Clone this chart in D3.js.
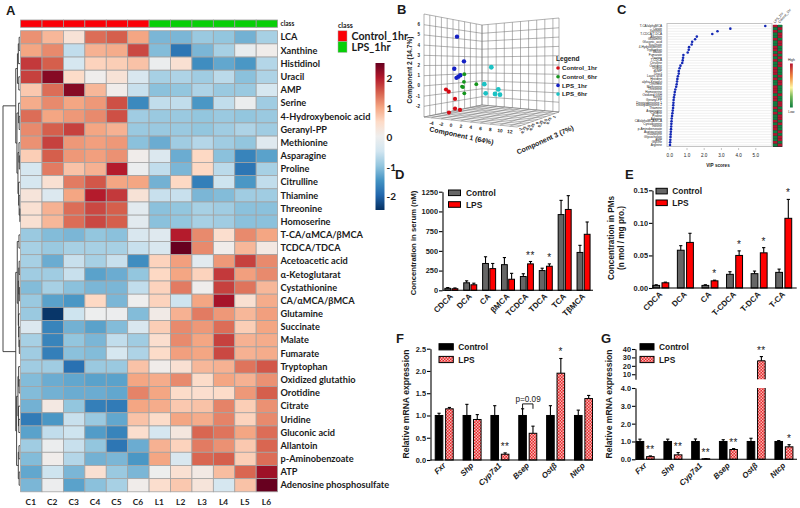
<!DOCTYPE html>
<html>
<head>
<meta charset="utf-8">
<script src="https://cdn.jsdelivr.net/npm/d3@7"></script>
<style>
  html, body { margin: 0; padding: 0; background: #fff; }
  svg { display: block; }
  text { font-family: "Liberation Sans", Arial, sans-serif; fill: #1a1a1a; }
  .calibri { font-family: Lato, sans-serif; font-weight: 700; }
</style>
</head>
<body>
<div id="canvas"></div>
<script>
"use strict"

/* ---------- data: panel A heatmap ---------- */
const sampleNames = ["C1","C2","C3","C4","C5","C6","L1","L2","L3","L4","L5","L6"];
const sampleClass = ["Control_1hr","Control_1hr","Control_1hr","Control_1hr","Control_1hr","Control_1hr",
                     "LPS_1hr","LPS_1hr","LPS_1hr","LPS_1hr","LPS_1hr","LPS_1hr"];
const metabolites = ["LCA","Xanthine","Histidinol","Uracil","AMP","Serine","4-Hydroxybenoic acid","Geranyl-PP",
  "Methionine","Asparagine","Proline","Citrulline","Thiamine","Threonine","Homoserine","T-CA/\u03b1MCA/\u03b2MCA",
  "TCDCA/TDCA","Acetoacetic acid","\u03b1-Ketoglutarat","Cystathionine","CA/\u03b1MCA/\u03b2MCA","Glutamine","Succinate",
  "Malate","Fumarate","Tryptophan","Oxidized glutathio","Orotidine","Citrate","Uridine","Gluconic acid","Allantoin",
  "p-Aminobenzoate","ATP","Adenosine phosphosulfate"];
const heatValues = [
  [1.1,.8,.3,1.35,1.45,.95,-1.1,-1.1,-.9,-.95,-1.15,-.8],
  [.95,1.15,-.6,.85,.9,1.6,-1.05,-1.75,-1.1,-.8,-.1,.05],
  [1.7,1.45,-.4,.55,.6,.7,-.05,.35,-1.5,-1.25,-1.4,-.7],
  [1.65,2.2,.45,.02,.3,-.35,-.8,-.75,-.85,-.65,-1,-.75],
  [.65,1.35,2.2,.8,.05,-.55,-1,-.95,-.75,-.9,-.9,-.4],
  [.9,1.15,.95,1.05,1.55,-1.55,-.6,-.6,-1.4,-.6,-.05,-.85],
  [1.35,.95,1.05,1.15,1.55,-.85,-.9,-.9,-.95,-.9,-.95,-.9],
  [1.15,1.45,1.65,.95,.85,-.9,-.9,-.9,-.95,-.85,-.75,-.85],
  [1.1,1.65,1.05,1,1.05,-1,-1.2,-.85,-.7,-.85,-.95,-.25],
  [.6,1.45,1.05,1,1.1,.05,-.3,-1.2,.5,-1,-1.6,-1.3],
  [-.4,1.25,.7,.85,1.9,-.05,-.6,-1.1,.5,-.65,-1.75,-.8],
  [-.4,.35,1.25,1.5,.95,.95,-1.15,.5,-1.65,-.5,-1.4,-.6],
  [.25,-.3,.95,1.9,1.7,.3,-.55,-.55,-1.1,-1.05,-.85,-.85],
  [.35,.85,1.35,1.6,1.45,-.2,-1,-.95,-.8,-.85,-1,-1],
  [.35,.8,1.35,1.6,1.45,-.2,-1,-.95,-.8,-.85,-1,-1],
  [-.9,-1.05,-1.1,-.95,-1,-.35,-.25,1.9,1.15,.4,1.15,.95],
  [-.8,-.9,-.8,-.8,-.8,-.55,-.35,2.4,1.15,.05,.8,.15],
  [-.8,-1.2,-.55,-.8,-.55,-1.5,.55,1,-.2,1.05,1.65,1.15],
  [-.85,-.85,-.55,-1.3,-1.2,-.95,.5,.95,.55,1.7,1,1.15],
  [-1.05,-.8,-1,-1.1,-1.1,-.6,.55,1.25,.02,1.65,1.3,.8],
  [-.9,-1.3,-1.4,.5,-1.1,0,.55,-.5,.95,2,.35,.9],
  [-.9,-2.35,-.5,-.02,-.03,-1.05,.1,.85,1.25,1.05,.8,1],
  [-.3,-1.6,-1.15,-1.3,-1.05,-.35,.6,1.15,1.05,1.35,.6,.95],
  [-.8,-1.6,-.95,-1.1,-.6,-.85,.4,1.15,.95,1.65,.85,.9],
  [-.85,-1.65,-1,-1.05,-.4,-.75,.45,1,.95,1.6,.85,.9],
  [-.85,-.85,-1.8,-.9,-.9,.7,.05,.35,.8,.85,1.3,1.5],
  [-1.05,-1.2,-1.25,-1.3,-1.3,.95,.9,1.15,.45,.95,.85,1.1],
  [-1.05,-1.15,-1.2,-1.2,-1.25,1.2,.95,.45,.4,.45,1.05,1.45],
  [-1.15,.15,-.95,-1.65,-1.7,.95,.9,.65,.7,1.2,.6,1.1],
  [-1.7,-1.4,-.55,-.9,-1.25,.7,.45,.95,.9,1.2,.55,1.15],
  [-1.3,-.6,-.5,-1.35,-1.6,.4,-.4,.2,1.4,1.3,.95,1.35],
  [-.85,-.05,-.55,-.95,-1.75,-1.2,.85,.55,1.25,1.1,.65,1.4],
  [-1.05,.05,-.7,-1.15,-1.1,-1.4,.95,-.35,1.4,1.45,.6,1.35],
  [-1.25,-.5,-1.1,.35,-.9,-1.1,-.02,.35,.12,.75,1.4,2.05],
  [-1.1,-.03,-1.3,-1,-.8,.05,.4,.65,.25,-.4,.7,2.4]
];
const heatTicks = [2,1,0,-1,-2];

/* row clustering, [height, left, right], a bare number is a row */
const rowTree = [1,
  [.25, [.15, [.1, [.05,0,1], 2], [.07,3,4]],
        [.18, [.08,5,[.05,6,7]], [.12, [.06,8,[.04,9,10]], [.08,11,[.05,12,[.01,13,14]]]]]],
  [.25, [.16, [.06,15,16], [.1, [.07,[.05,17,18],[.04,19,20]], [.08,21,[.06,22,[.04,23,24]]]]],
        [.2, [.12, [.08,25,[.05,26,27]], [.09,28,[.07,29,30]]], [.1, [.06,31,32], [.05,33,34]]]]
];

/* ---------- data: panel B PCA ---------- */
const pcaGroups = ["Control_1hr","Control_6hr","LPS_1hr","LPS_6hr"];
const pcaControl1 = [[-4.51,-.51],[-3.92,-.72],[-2.57,-1.43],[-2.57,-2.41],[-1.49,-2.5],[-3.87,-2.88]];
const pcaControl6 = [[-.56,1.12],[-.64,.35],[-1.05,-.13],[-.85,-.18],[-.56,-.8],[2.02,.17]];
const pcaLps1 = [[-2.14,4.93],[-.64,2.41],[-2.73,1.66],[-1.85,.86],[-1.43,1.01],[-2.25,.73]];
const pcaLps6 = [[5.25,1.84],[3.74,.2],[4.04,-.68],[6.76,-.24],[6.05,-.69],[7.12,-.73]];
const pcaDepth = -0.5;   // component 3, cannot be read apart in the picture

/* ---------- data: panel C VIP ---------- */
const vipNames = ["T-CA/alphaMCA","Citrate","Xanthine","T-CDCA/T-DCA","Allantoin","Glutamine","Gluconic_acid","Succinate",
  "4-Hydroxybenoic","Tryptophan","Malate","Fumarate","Taurine","T-CDCA","Citrulline","Orotidine","Uridine","dUMP",
  "Uracil","Lauric acid","Histidine","alpha-Ketoglut","Ornithine","Methionine","Threonine","Homoserine","Oxidized GSH","Serine",
  "Geranyl-PP","Deoxyadenosine 1","Deoxyadenosine 2","Thiamine","Asparagine","Cytidine","Proline","Adenine",
  "CA/alphaMCA/MCA","Cystathionine","Inosine","p-Aminobenzoate","Acetoacetate","Guanosine","Glycocholate","AMP","Glycine","Arginine"];
const vipScores = [5.58,3.55,2.8,2.5,1.6,1.5,1.33,1.3,1.15,1.13,1.07,.82,.8,.78,.75,.65,.6,.55,.55,.5,.47,.45,.43,.4,
  .35,.32,.3,.27,.25,.24,.23,.22,.2,.18,.16,.14,.13,.12,.11,.1,.09,.08,.07,.06,.05,.04];
const vipControlHigh = [1,0,1,0,0,1,0,0,1,1,0,1,0,1,0,0,1,1,1,0,1,0,0,1,1,1,0,1,1,0,0,1,0,1,0,0,1,0,1,1,0,1,0,0,1,0];
const vipTicks = [0,1,2,3,4,5];

/* ---------- data: bar panels ---------- */
const groupNames = ["Control","LPS"];

const serumNames = ["CDCA","DCA","CA","\u03b2MCA","TCDCA","TDCA","TCA","T\u03b2MCA"];
const serumControl = [25,95,340,325,175,250,960,480];
const serumLps = [20,70,275,140,335,305,1025,710];
const serumControlTop = [35,120,425,415,210,280,1140,570];
const serumLpsTop = [30,90,340,215,365,335,1200,866];
const serumStars = ["","","","","**","*","",""];
const serumTicks = [0,250,500,750,1000,1250];

const pmNames = ["CDCA","DCA","CA","T-CDCA","T-DCA","T-CA"];
const pmControl = [.004,.058,.004,.021,.022,.024];
const pmLps = [.008,.07,.011,.05,.054,.107];
const pmControlTop = [.005,.065,.005,.025,.026,.029];
const pmLpsTop = [.009,.084,.012,.057,.062,.136];
const pmStars = ["","","*","*","*","*"];
const pmTicks = [0,.05,.1,.15];

const geneNames = ["Fxr","Shp","Cyp7a1","Bsep","Ost\u03b2","Ntcp"];
const liverControl = [1,1,1,1,1,1];
const liverLps = [1.15,.91,.13,.6,1.95,1.38];
const liverControlTop = [1.05,1.25,1.22,1.15,1.22,1.12];
const liverLpsTop = [1.18,1.02,.16,.76,2.28,1.45];
const liverStars = ["","","**","","*",""];
const liverTicks = [0,.5,1,1.5,2,2.5];

const ileumControl = [1,1,1,1,1,1];
const ileumLps = [.15,.25,.03,.55,26,.7];
const ileumControlTop = [1.13,1.13,1.14,1.1,1.18,1.05];
const ileumLpsTop = [.19,.38,.04,.6,31,.82];
const ileumStars = ["**","**","**","**","**","*"];
const ileumLowTicks = [0,1,2,3,4];
const ileumHighTicks = [10,20,30,40];

/* ---------- canvas ---------- */
let drawing = d3.select("#canvas")
  .append("svg")
  .attr("width", 800)
  .attr("height", 508)
  .attr("viewBox", "0 0 800 508");

drawing.append("rect").attr("width", 800).attr("height", 508).attr("fill", "white");

let defs = drawing.append("defs");

/* checker fill of the LPS bars in F and G */
let checker = defs.append("pattern")
  .attr("id", "checker")
  .attr("width", 3)
  .attr("height", 3)
  .attr("patternUnits", "userSpaceOnUse");
checker.append("rect").attr("width", 3).attr("height", 3).attr("fill", "#e8262c");
checker.append("rect").attr("width", 1.5).attr("height", 1.5).attr("fill", "#f7b9b4");
checker.append("rect").attr("x", 1.5).attr("y", 1.5).attr("width", 1.5).attr("height", 1.5).attr("fill", "#f7b9b4");

/* panel letters */
[["A",6,14.5],["B",397,14],["C",617,14],["D",395,179],["E",625,179],["F",396,343],["G",601,343]].forEach(p => {
  drawing.append("text").attr("x", p[1]).attr("y", p[2]).text(p[0])
    .attr("font-size", 13).attr("font-weight", "bold").attr("fill", "#000");
});

/* ---------- panel A ---------- */
let heatX = d3.scaleBand().domain(sampleNames).range([20.6, 277.6]);
let heatY = d3.scaleBand().domain(d3.range(metabolites.length)).range([30.7, 491.8]);
let heatColor = d3.scaleLinear()
  .domain(d3.range(11).map(i => -2.4 + i * 0.48))
  .range(["#053061","#2166ac","#4393c3","#92c5de","#d1e5f0","#eeeeee","#fddbc7","#f4a582","#d6604d","#b2182b","#67001f"])
  .clamp(true);
let classColor = d3.scaleOrdinal().domain(["Control_1hr","LPS_1hr"]).range(["#fb0007","#07cf07"]);

/* class strip */
drawing.append("g").selectAll("rect").data(sampleNames).join("rect")
  .attr("x", d => heatX(d))
  .attr("y", 20)
  .attr("width", heatX.bandwidth())
  .attr("height", 7.3)
  .attr("fill", (d, i) => classColor(sampleClass[i]))
  .attr("stroke", "#9a9a9a")
  .attr("stroke-width", 0.8);
drawing.append("text").attr("x", 280.5).attr("y", 26.4).text("class")
  .attr("class", "calibri").attr("font-size", 6.5).attr("fill", "#333");

/* cells */
let heatRows = drawing.append("g").selectAll("g").data(heatValues).join("g")
  .attr("transform", (d, i) => `translate(0,${heatY(i)})`);
heatRows.selectAll("rect").data(d => d).join("rect")
  .attr("x", (d, i) => heatX(sampleNames[i]))
  .attr("width", heatX.bandwidth())
  .attr("height", heatY.bandwidth())
  .attr("fill", d => heatColor(d))
  .attr("stroke", "#a3a3a3")
  .attr("stroke-width", 0.8);

/* row and column names */
drawing.append("g").selectAll("text").data(metabolites).join("text")
  .attr("class", "calibri")
  .attr("x", 280.5)
  .attr("y", (d, i) => heatY(i) + heatY.bandwidth() / 2 + 3.2)
  .attr("font-size", 9.2)
  .text(d => d);
drawing.append("g").selectAll("text").data(sampleNames).join("text")
  .attr("class", "calibri")
  .attr("x", d => heatX(d) + heatX.bandwidth() / 2 - 0.5)
  .attr("y", 505)
  .attr("text-anchor", "middle")
  .attr("font-size", 8.4)
  .text(d => d);

/* dendrogram */
let treeX = d3.scaleLinear().domain([0, 1]).range([20, 3]);
let treeG = drawing.append("g").attr("stroke", "#333").attr("stroke-width", 0.9).attr("fill", "none");
function drawNode(node) {
  if (typeof node === "number") {
    return { x: treeX(0), y: heatY(node) + heatY.bandwidth() / 2 };
  }
  let a = drawNode(node[1]);
  let b = drawNode(node[2]);
  let x = treeX(node[0]);
  treeG.append("path").attr("d", `M${a.x},${a.y}H${x}V${b.y}H${b.x}`);
  return { x: x, y: (a.y + b.y) / 2 };
}
drawNode(rowTree);

/* class legend */
drawing.append("text").attr("x", 338).attr("y", 27.5).text("class")
  .attr("class", "calibri").attr("font-size", 7).attr("fill", "#333");
classColor.domain().forEach((name, i) => {
  drawing.append("rect")
    .attr("x", 338).attr("y", 30.8 + i * 10.8)
    .attr("width", 9).attr("height", 10.8)
    .attr("fill", classColor(name)).attr("stroke", "#aaa").attr("stroke-width", 0.5);
  drawing.append("text")
    .attr("class", "calibri")
    .attr("x", 351.5).attr("y", 39.5 + i * 11.2)
    .attr("font-size", 10.6)
    .text(name);
});

/* colour bar */
let barY = d3.scaleLinear().domain([-2.45, 2.52]).range([210, 63]);
let barGrad = defs.append("linearGradient").attr("id", "heatBar")
  .attr("x1", 0).attr("x2", 0).attr("y1", 1).attr("y2", 0);
d3.range(-2.4, 2.41, 0.24).forEach(v => {
  barGrad.append("stop").attr("offset", (v + 2.4) / 4.8).attr("stop-color", heatColor(v));
});
drawing.append("rect").attr("x", 375.5).attr("y", 63).attr("width", 9).attr("height", 147).attr("fill", "url(#heatBar)");
drawing.append("g").selectAll("text").data(heatTicks).join("text")
  .attr("class", "calibri")
  .attr("x", 386.5)
  .attr("y", d => barY(d) + 3.6)
  .attr("font-size", 10)
  .text(d => d);

/* ---------- panel B ---------- */
let c1Scale = d3.scaleLinear().domain([-5.5, 13.5]).range([0, 1]);
let c2Scale = d3.scaleLinear().domain([-3.05, 7.05]).range([0, 1]);
let c3Scale = d3.scaleLinear().domain([-1.25, 1.25]).range([0, 1]);

/* box corners: u along component 1, v along component 3 */
const floorCorners = { u0v0: [424,117], u0v1: [482,105], u1v0: [517,127], u1v1: [559,112] };
const topCorners = { u0v0: [424,14], u0v1: [482,25], u1v0: [517,5], u1v1: [559,18] };
function bilinear(c, u, v, k) {
  return (1-u)*(1-v)*c.u0v0[k] + (1-u)*v*c.u0v1[k] + u*(1-v)*c.u1v0[k] + u*v*c.u1v1[k];
}
function project(c1, c2, c3) {
  let u = c1Scale(c1), v = c3Scale(c3), w = c2Scale(c2);
  return [bilinear(floorCorners, u, v, 0),
          bilinear(floorCorners, u, v, 1) * (1 - w) + bilinear(topCorners, u, v, 1) * w];
}
let boxG = drawing.append("g").attr("stroke", "#808080").attr("stroke-width", 0.6).attr("fill", "none");
function gridLine(a, b) {
  let p = project(...a), q = project(...b);
  boxG.append("line").attr("x1", p[0]).attr("y1", p[1]).attr("x2", q[0]).attr("y2", q[1]);
}
const c1Min = c1Scale.domain()[0], c1Max = c1Scale.domain()[1];
const c2Min = c2Scale.domain()[0], c2Max = c2Scale.domain()[1];
const c3Min = c3Scale.domain()[0], c3Max = c3Scale.domain()[1];
const c1Ticks = [-4,-2,0,2,4,6,8,10,12];
const c2Ticks = [-2,-1,0,1,2,3,4,5,6];
const c3Ticks = [-1,-.75,-.5,-.25,0,.25,.5,.75,1];

[c1Min].concat(c1Ticks, [c1Max]).forEach(t => {
  gridLine([t,c2Min,c3Min],[t,c2Min,c3Max]);
  gridLine([t,c2Min,c3Max],[t,c2Max,c3Max]);
});
[c3Min].concat(c3Ticks, [c3Max]).forEach(t => {
  gridLine([c1Min,c2Min,t],[c1Max,c2Min,t]);
  gridLine([c1Min,c2Min,t],[c1Min,c2Max,t]);
});
[c2Min].concat(c2Ticks, [c2Max]).forEach(t => {
  gridLine([c1Min,t,c3Min],[c1Min,t,c3Max]);
  gridLine([c1Min,t,c3Max],[c1Max,t,c3Max]);
});

/* tick labels of the box */
drawing.append("g").selectAll("text").data(c2Ticks).join("text")
  .attr("x", d => project(c1Min, d, c3Min)[0] - 4)
  .attr("y", d => project(c1Min, d, c3Min)[1] + 1.5)
  .attr("text-anchor", "end").attr("font-size", 4.5).attr("font-weight", "bold").attr("fill", "#444")
  .text(d => d);
drawing.append("g").selectAll("text").data(c1Ticks).join("text")
  .attr("transform", d => {
    let p = project(d, c2Min, c3Min);
    return `translate(${p[0]},${p[1] + 7}) rotate(6)`;
  })
  .attr("text-anchor", "middle").attr("font-size", 4.8).attr("font-weight", "bold").attr("fill", "#444")
  .text(d => d);
drawing.append("g").selectAll("text").data(c3Ticks).join("text")
  .attr("transform", d => {
    let p = project(c1Max, c2Min, d);
    return `translate(${p[0] + 1},${p[1] + 3}) rotate(-65)`;
  })
  .attr("text-anchor", "end").attr("font-size", 3.8).attr("font-weight", "bold").attr("fill", "#444")
  .text(d => d);

drawing.append("text").attr("transform", "translate(412,70) rotate(-90)").attr("text-anchor", "middle")
  .attr("font-size", 6.6).attr("font-weight", "bold").attr("fill", "#333").text("Component 2 (14.7%)");
drawing.append("text").attr("transform", "translate(461,138) rotate(12)").attr("text-anchor", "middle")
  .attr("font-size", 7).attr("font-weight", "bold").attr("fill", "#333").text("Component 1 (64%)");
drawing.append("text").attr("transform", "translate(546,142) rotate(-24)").attr("text-anchor", "middle")
  .attr("font-size", 7).attr("font-weight", "bold").attr("fill", "#333").text("Component 3 (7%)");

/* points */
let pcaColor = d3.scaleOrdinal().domain(pcaGroups).range(["#d40a14","#14951c","#1420c4","#1cc2c4"]);
let pcaRadius = d3.scaleOrdinal().domain(pcaGroups).range([2.1,1.9,2.2,2.4]);
[pcaLps6, pcaLps1, pcaControl6, pcaControl1].forEach((pts, k) => {
  let name = pcaGroups[[3,2,1,0][k]];
  drawing.append("g").selectAll("circle").data(pts).join("circle")
    .attr("cx", d => project(d[0], d[1], pcaDepth)[0])
    .attr("cy", d => project(d[0], d[1], pcaDepth)[1])
    .attr("r", pcaRadius(name))
    .attr("fill", pcaColor(name));
});

/* legend of B */
drawing.append("text").attr("x", 556).attr("y", 61).attr("font-size", 6.6).attr("font-weight", "bold").text("Legend");
pcaGroups.forEach((name, i) => {
  drawing.append("circle").attr("cx", 558).attr("cy", 68 + i * 8.7).attr("r", 1.8).attr("fill", pcaColor(name));
  drawing.append("text").attr("x", 562).attr("y", 70.2 + i * 8.7)
    .attr("font-size", 6.2).attr("font-weight", "bold").text(name);
});

/* ---------- panel C ---------- */
let vipX = d3.scaleLinear().domain([0, 5]).range([669.3, 755.3]);
let vipY = d3.scalePoint().domain(vipNames).range([26, 145]);

drawing.append("rect").attr("x", 667).attr("y", 23.5).attr("width", 105).attr("height", 123)
  .attr("fill", "white").attr("stroke", "#c4c4c4").attr("stroke-width", 1);
drawing.append("g").selectAll("line").data(vipNames).join("line")
  .attr("x1", 667).attr("x2", 772)
  .attr("y1", d => vipY(d)).attr("y2", d => vipY(d))
  .attr("stroke", "#dedede").attr("stroke-width", 0.5);
drawing.append("g").selectAll("text").data(vipNames).join("text")
  .attr("x", 662)
  .attr("y", d => vipY(d) + 1)
  .attr("text-anchor", "end")
  .attr("font-size", 3.1)
  .attr("fill", "#555")
  .text(d => d);
drawing.append("g").selectAll("circle").data(vipScores).join("circle")
  .attr("cx", d => vipX(d))
  .attr("cy", (d, i) => vipY(vipNames[i]))
  .attr("r", 1.3)
  .attr("fill", "#1428b4");

let vipAxis = d3.axisBottom(vipX).tickValues(vipTicks).tickSize(2);
let vipAxisG = drawing.append("g").attr("transform", "translate(0,148)").call(vipAxis);
vipAxisG.select(".domain").remove();
vipAxisG.selectAll("line").attr("stroke", "#888").attr("stroke-width", 0.5);
vipAxisG.selectAll("text").attr("font-size", 4.6).attr("font-family", null).attr("fill", "#444").attr("dy", "0.9em");
drawing.append("text").attr("x", 718).attr("y", 167).attr("text-anchor", "middle")
  .attr("font-size", 4.6).attr("font-weight", "bold").attr("fill", "#333").text("VIP scores");

/* group means next to the VIP plot */
let vipHeat = d3.scaleOrdinal().domain([0, 1]).range(["#0f7f3f","#b5142f"]);
let vipCols = d3.scaleBand().domain([0, 1]).range([772.8, 782.4]);
let vipCellH = vipY.step();
drawing.append("rect").attr("x", 772.8).attr("y", 25).attr("width", 9.6).attr("height", 122).attr("fill", "#333");
vipControlHigh.forEach((h, i) => {
  [h, 1 - h].forEach((c, k) => {
    drawing.append("rect")
      .attr("x", vipCols(k) + 0.3)
      .attr("y", vipY(vipNames[i]) - vipCellH / 2 + 0.1)
      .attr("width", vipCols.bandwidth() - 0.6)
      .attr("height", vipCellH - 0.2)
      .attr("fill", vipHeat(c));
  });
});
["LPS_1hr","Control_1hr"].forEach((name, i) => {
  drawing.append("text")
    .attr("transform", `translate(${775 + i * 4.8},23.5) rotate(-50)`)
    .attr("font-size", 3.4).attr("fill", "#555").text(name);
});
let vipGrad = defs.append("linearGradient").attr("id", "vipBar").attr("x1", 0).attr("x2", 0).attr("y1", 0).attr("y2", 1);
[["0","#b5142f"],["0.3","#f08a3c"],["0.55","#fff6a0"],["0.75","#74b85a"],["1","#0f7f3f"]].forEach(s => {
  vipGrad.append("stop").attr("offset", s[0]).attr("stop-color", s[1]);
});
drawing.append("rect").attr("x", 790).attr("y", 63.5).attr("width", 2.8).attr("height", 44).attr("fill", "url(#vipBar)");
drawing.append("text").attr("x", 791.4).attr("y", 61).attr("text-anchor", "middle").attr("font-size", 3.4).attr("fill", "#444").text("High");
drawing.append("text").attr("x", 791.4).attr("y", 112.5).attr("text-anchor", "middle").attr("font-size", 3.4).attr("fill", "#444").text("Low");

/* ---------- bar panels D, E, F ---------- */
function styleAxis(g) {
  g.selectAll(".domain").attr("stroke", "#000").attr("stroke-width", 1.1);
  g.selectAll("line").attr("stroke", "#000").attr("stroke-width", 1.1);
  g.selectAll("text").attr("font-size", 7.4).attr("font-family", null).attr("font-weight", "bold").attr("fill", "#222");
}

function drawBarPair(g, x, y, names, values, tops, xOff, fill, barW) {
  g.append("g").selectAll("rect").data(values).join("rect")
    .attr("x", (d, i) => x(names[i]) + x.bandwidth() / 2 + xOff - barW / 2)
    .attr("y", d => y(d))
    .attr("width", barW)
    .attr("height", d => y(0) - y(d))
    .attr("fill", fill)
    .attr("stroke", "#000")
    .attr("stroke-width", 1);
  /* upper error bars */
  let err = g.append("g").attr("stroke", "#000").attr("stroke-width", 1.1);
  err.selectAll(".stem").data(tops).join("line").attr("class", "stem")
    .attr("x1", (d, i) => x(names[i]) + x.bandwidth() / 2 + xOff)
    .attr("x2", (d, i) => x(names[i]) + x.bandwidth() / 2 + xOff)
    .attr("y1", (d, i) => y(values[i]))
    .attr("y2", d => y(d));
  err.selectAll(".cap").data(tops).join("line").attr("class", "cap")
    .attr("x1", (d, i) => x(names[i]) + x.bandwidth() / 2 + xOff - 1.6)
    .attr("x2", (d, i) => x(names[i]) + x.bandwidth() / 2 + xOff + 1.6)
    .attr("y1", d => y(d))
    .attr("y2", d => y(d));
}

function drawStars(g, x, y, names, tops, stars, xOff) {
  g.append("g").selectAll("text").data(stars).join("text")
    .attr("x", (d, i) => x(names[i]) + x.bandwidth() / 2 + xOff)
    .attr("y", (d, i) => y(tops[i]) - 3)
    .attr("text-anchor", "middle")
    .attr("font-size", 10)
    .attr("letter-spacing", 0.6)
    .attr("fill", "#333")
    .text(d => d);
}

function drawCategoryLabels(g, x, names, y0, italic) {
  g.append("g").selectAll("text").data(names).join("text")
    .attr("transform", d => `translate(${x(d) + x.bandwidth() / 2 + 2},${y0}) rotate(-45)`)
    .attr("text-anchor", "end")
    .attr("font-size", 8)
    .attr("font-weight", "bold")
    .attr("font-style", italic ? "italic" : "normal")
    .attr("fill", "#222")
    .text(d => d);
}

function drawLegend(g, x, y1, y2, w, h, textX, fills) {
  groupNames.forEach((name, i) => {
    let yy = i === 0 ? y1 : y2;
    g.append("rect").attr("x", x).attr("y", yy).attr("width", w).attr("height", h)
      .attr("fill", fills[i]).attr("stroke", "#000").attr("stroke-width", 1);
    g.append("text").attr("x", textX).attr("y", yy + h / 2 + 3)
      .attr("font-size", 8.4).attr("font-weight", "bold").attr("fill", "#222").text(name);
  });
}

/* D */
let serumX = d3.scaleBand().domain(serumNames).range([441.9, 593]);
let serumY = d3.scaleLinear().domain([0, 1250]).range([290.3, 191.7]);
let panelD = drawing.append("g");
drawBarPair(panelD, serumX, serumY, serumNames, serumControl, serumControlTop, -3.6, "#666666", 5.8);
drawBarPair(panelD, serumX, serumY, serumNames, serumLps, serumLpsTop, 3.6, "#ff0000", 5.8);
drawStars(panelD, serumX, serumY, serumNames, serumLpsTop, serumStars, 3.6);
panelD.append("g").attr("transform", "translate(442.5,0)")
  .call(d3.axisLeft(serumY).tickValues(serumTicks).tickFormat(d3.format("d")).tickSize(3.5).tickPadding(1).tickSizeOuter(0)).call(styleAxis);
panelD.append("line").attr("x1", 442.5).attr("x2", 593).attr("y1", serumY(0)).attr("y2", serumY(0))
  .attr("stroke", "#000").attr("stroke-width", 1.1);
drawCategoryLabels(panelD, serumX, serumNames, 297, false);
drawLegend(panelD, 448.5, 190, 201.7, 12, 5.6, 466, ["#666666", "#ff0000"]);
panelD.append("text").attr("transform", "translate(415.5,243) rotate(-90)").attr("text-anchor", "middle")
  .attr("font-size", 7.7).attr("font-weight", "bold").attr("fill", "#222").text("Concentration in serum (nM)");

/* E */
let pmX = d3.scaleBand().domain(pmNames).range([648.5, 796]);
let pmY = d3.scaleLinear().domain([0, .15]).range([288, 190.3]);
let panelE = drawing.append("g");
drawBarPair(panelE, pmX, pmY, pmNames, pmControl, pmControlTop, -4.6, "#666666", 6.8);
drawBarPair(panelE, pmX, pmY, pmNames, pmLps, pmLpsTop, 4.6, "#ff0000", 6.8);
drawStars(panelE, pmX, pmY, pmNames, pmLpsTop, pmStars, 4.6);
panelE.append("g").attr("transform", "translate(652.5,0)")
  .call(d3.axisLeft(pmY).tickValues(pmTicks).tickFormat(d3.format(".2f")).tickSize(3.5).tickPadding(1).tickSizeOuter(0)).call(styleAxis);
panelE.append("line").attr("x1", 652.5).attr("x2", 796.7).attr("y1", pmY(0)).attr("y2", pmY(0))
  .attr("stroke", "#000").attr("stroke-width", 1.1);
drawCategoryLabels(panelE, pmX, pmNames, 295, false);
drawLegend(panelE, 656, 188.3, 200, 11.3, 5.6, 672.3, ["#666666", "#ff0000"]);
panelE.append("text").attr("transform", "translate(613.5,238) rotate(-90)").attr("text-anchor", "middle")
  .attr("font-size", 8.2).attr("font-weight", "bold").attr("fill", "#222").text("Concentration in PMs");
panelE.append("text").attr("transform", "translate(623.5,238) rotate(-90)").attr("text-anchor", "middle")
  .attr("font-size", 8.2).attr("font-weight", "bold").attr("fill", "#222").text("(n mol / mg pro.)");

/* F */
let liverX = d3.scaleBand().domain(geneNames).range([430.3, 597.4]);
let liverY = d3.scaleLinear().domain([0, 2.5]).range([460, 348.7]);
let panelF = drawing.append("g");
drawBarPair(panelF, liverX, liverY, geneNames, liverControl, liverControlTop, -5.2, "#000000", 7.6);
drawBarPair(panelF, liverX, liverY, geneNames, liverLps, liverLpsTop, 5.2, "url(#checker)", 7.6);
drawStars(panelF, liverX, liverY, geneNames, liverLpsTop, liverStars, 5.2);
panelF.append("g").attr("transform", "translate(430.5,0)")
  .call(d3.axisLeft(liverY).tickValues(liverTicks).tickFormat(d3.format(".1f")).tickSize(3.5).tickPadding(1).tickSizeOuter(0)).call(styleAxis);
panelF.append("line").attr("x1", 430.5).attr("x2", 593).attr("y1", liverY(0)).attr("y2", liverY(0))
  .attr("stroke", "#000").attr("stroke-width", 1.1);
drawCategoryLabels(panelF, liverX, geneNames, 466, true);
drawLegend(panelF, 439, 343.7, 356.4, 14.3, 6.2, 458.3, ["#000000", "url(#checker)"]);
panelF.append("text").attr("transform", "translate(409,404) rotate(-90)").attr("text-anchor", "middle")
  .attr("font-size", 8.6).attr("font-weight", "bold").attr("fill", "#222").text("Relative mRNA expression");

/* p=0.09 bracket over Bsep */
let bsepC = liverX("Bsep") + liverX.bandwidth() / 2;
panelF.append("path")
  .attr("d", `M${bsepC - 5.2},${liverY(1.15)}V${liverY(1.26)}H${bsepC + 5.2}V${liverY(1.15)}`)
  .attr("fill", "none").attr("stroke", "#000").attr("stroke-width", 0.9);
panelF.append("text").attr("x", bsepC + 0.3).attr("y", liverY(1.26) - 2.2).attr("text-anchor", "middle")
  .attr("font-size", 8.2).attr("fill", "#222").text("p=0.09");

/* G: broken axis, two scales */
let ileumX = d3.scaleBand().domain(geneNames).range([631.3, 797.8]);
let ileumLow = d3.scaleLinear().domain([0, 4]).range([459.3, 388]);
let ileumHigh = d3.scaleLinear().domain([4, 40]).range([379.3, 349]);
let ileumY = v => v <= 4 ? ileumLow(v) : ileumHigh(v);
let panelG = drawing.append("g");
drawBarPair(panelG, ileumX, ileumLow, geneNames, ileumControl, ileumControlTop, -5.2, "#000000", 7.6);

/* LPS bars: the tall one is cut at the break, no outline along the cut */
const ileumBarW = 7.6;
panelG.append("g").selectAll("rect").data(ileumLps).join("rect")
  .attr("x", (d, i) => ileumX(geneNames[i]) + ileumX.bandwidth() / 2 + 5.2 - ileumBarW / 2)
  .attr("y", d => ileumLow(Math.min(d, 4)))
  .attr("width", ileumBarW)
  .attr("height", d => ileumLow(0) - ileumLow(Math.min(d, 4)))
  .attr("fill", "url(#checker)")
  .attr("stroke", "#000")
  .attr("stroke-width", 1)
  .attr("stroke-dasharray", d => {
    if (d <= 4) return null;
    let h = ileumLow(0) - ileumLow(4);
    return `0,${ileumBarW},${2 * h + ileumBarW}`;
  });
panelG.append("g").selectAll("rect").data(ileumLps.filter(d => d > 4)).join("rect")
  .attr("x", ileumX("Ost\u03b2") + ileumX.bandwidth() / 2 + 5.2 - ileumBarW / 2)
  .attr("y", d => ileumHigh(d))
  .attr("width", ileumBarW)
  .attr("height", d => ileumHigh(4) - ileumHigh(d))
  .attr("fill", "url(#checker)")
  .attr("stroke", "#000")
  .attr("stroke-width", 1)
  .attr("stroke-dasharray", d => {
    let h = ileumHigh(4) - ileumHigh(d);
    return `${ileumBarW + h},${ileumBarW},${h}`;
  });
let ileumErr = panelG.append("g").attr("stroke", "#000").attr("stroke-width", 1.1);
ileumErr.selectAll(".stem").data(ileumLpsTop).join("line").attr("class", "stem")
  .attr("x1", (d, i) => ileumX(geneNames[i]) + ileumX.bandwidth() / 2 + 5.2)
  .attr("x2", (d, i) => ileumX(geneNames[i]) + ileumX.bandwidth() / 2 + 5.2)
  .attr("y1", (d, i) => ileumY(ileumLps[i]))
  .attr("y2", d => ileumY(d));
ileumErr.selectAll(".cap").data(ileumLpsTop).join("line").attr("class", "cap")
  .attr("x1", (d, i) => ileumX(geneNames[i]) + ileumX.bandwidth() / 2 + 3.6)
  .attr("x2", (d, i) => ileumX(geneNames[i]) + ileumX.bandwidth() / 2 + 6.8)
  .attr("y1", d => ileumY(d))
  .attr("y2", d => ileumY(d));
drawStars(panelG, ileumX, ileumY, geneNames, ileumLpsTop, ileumStars, 5.2);

panelG.append("g").attr("transform", "translate(635.5,0)")
  .call(d3.axisLeft(ileumLow).tickValues(ileumLowTicks).tickSize(3.5).tickPadding(1).tickSizeOuter(0)).call(styleAxis);
panelG.append("g").attr("transform", "translate(635.5,0)")
  .call(d3.axisLeft(ileumHigh).tickValues(ileumHighTicks).tickSize(3.5).tickPadding(1).tickSizeOuter(0)).call(styleAxis);
panelG.append("line").attr("x1", 635.5).attr("x2", 797).attr("y1", ileumLow(0)).attr("y2", ileumLow(0))
  .attr("stroke", "#000").attr("stroke-width", 1.1);
drawCategoryLabels(panelG, ileumX, geneNames, 466, true);
drawLegend(panelG, 640, 343.7, 356.4, 14, 6.2, 659, ["#000000", "url(#checker)"]);
panelG.append("text").attr("transform", "translate(612,404) rotate(-90)").attr("text-anchor", "middle")
  .attr("font-size", 8.6).attr("font-weight", "bold").attr("fill", "#222").text("Relative mRNA expression");
</script>
</body>
</html>
